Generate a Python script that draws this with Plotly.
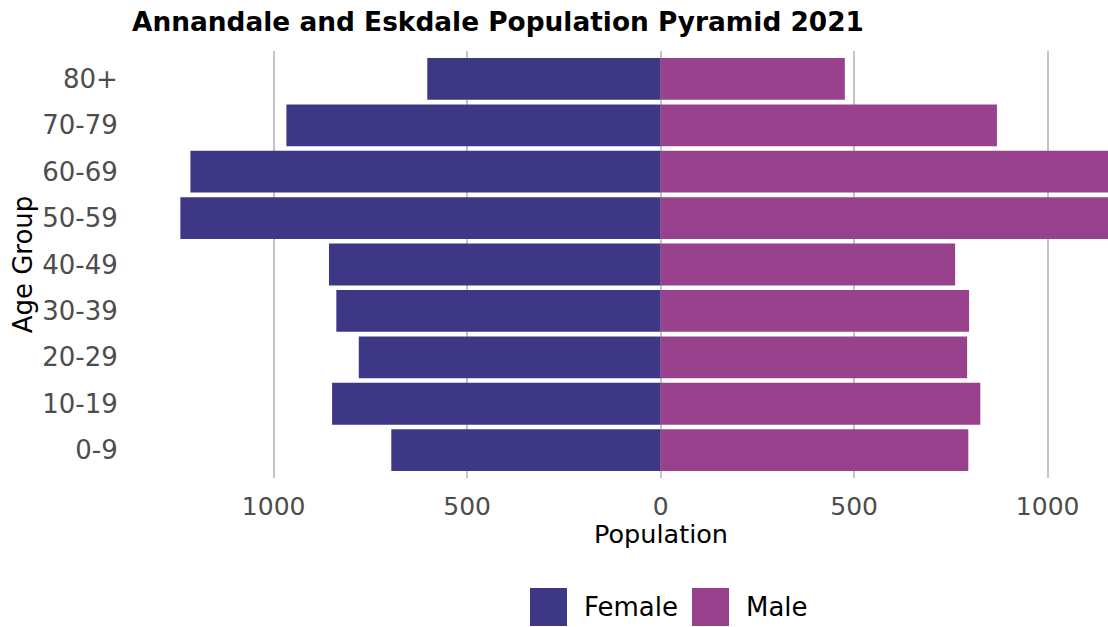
import plotly.graph_objects as go

age_groups = ["0-9", "10-19", "20-29", "30-39", "40-49", "50-59", "60-69", "70-79", "80+"]
female = [696, 849, 780, 838, 857, 1241, 1215, 967, 603]
male = [795, 826, 792, 797, 761, 1235, 1190, 869, 476]
tick_vals = [-1000, -500, 0, 500, 1000]
tick_text = ["1000", "500", "0", "500", "1000"]

female_color = "#3E3785"
male_color = "#98428E"

W, H = 1108, 627
PL, PT, PB = 132, 51, 478          # plot edges in page pixels
PW, PH = W - PL, PB - PT

fig = go.Figure()
fig.add_trace(go.Bar(y=age_groups, x=[-v for v in female], orientation="h", name="Female",
                     marker=dict(color=female_color, line=dict(width=0)), width=0.9,
                     customdata=female, hovertemplate="%{y}: %{customdata}<extra>Female</extra>",
                     showlegend=False))
fig.add_trace(go.Bar(y=age_groups, x=male, orientation="h", name="Male",
                     marker=dict(color=male_color, line=dict(width=0)), width=0.9,
                     showlegend=False))

fig.update_layout(
    width=W, height=H,
    margin=dict(l=PL, r=0, t=PT, b=H - PB, pad=0),
    barmode="relative",
    plot_bgcolor="white", paper_bgcolor="white",
    font=dict(family="DejaVu Sans", color="black"),
    title=dict(text="<b>Annandale and Eskdale Population Pyramid 2021</b>",
               x=0, xref="paper", xanchor="left", y=1 - 22 / H, yref="container",
               yanchor="middle", font=dict(size=26.4, color="black")),
    xaxis=dict(range=[-1366, 1156], tickvals=tick_vals, ticktext=tick_text,
               showgrid=True, gridcolor="#C4C4C4", gridwidth=2, zeroline=False,
               ticks="outside", ticklen=6, tickcolor="rgba(0,0,0,0)",
               tickfont=dict(size=25, color="#4D4D4D"), automargin=False),
    yaxis=dict(categoryorder="array", categoryarray=age_groups, range=[-0.6, 8.6],
               showgrid=False, zeroline=False,
               ticks="outside", ticklen=8, tickcolor="rgba(0,0,0,0)",
               tickfont=dict(size=26, color="#4D4D4D"), automargin=False,
               title=dict(text="Age Group", font=dict(size=26, color="black"), standoff=2)),
)

# x-axis title is centred on the full (cropped) panel, at the zero line
fig.add_annotation(text="Population", xref="x", yref="paper", x=0, y=-(534 - PB) / PH,
                   xanchor="center", yanchor="middle", showarrow=False, borderpad=0,
                   font=dict(size=25.5, color="black"))

# legend drawn manually to reproduce the large key squares
legend_items = [("Female", female_color, 530, 567, 583), ("Male", male_color, 692, 729, 745)]
for name, color, x0, x1, tx in legend_items:
    fig.add_shape(type="rect", xref="paper", yref="paper",
                  x0=(x0 - PL) / PW, x1=(x1 - PL) / PW,
                  y0=-(588 - PB) / PH, y1=-(626 - PB) / PH,
                  fillcolor=color, line=dict(width=0))
    fig.add_annotation(text=name, xref="paper", yref="paper",
                       x=(tx - PL) / PW, y=-(607 - PB) / PH,
                       xanchor="left", yanchor="middle", showarrow=False, borderpad=0,
                       font=dict(size=26, color="black"))

fig.write_html("out.html", config={"displayModeBar": False},
               post_script="document.body.style.margin='0';document.body.style.overflow='hidden';")
